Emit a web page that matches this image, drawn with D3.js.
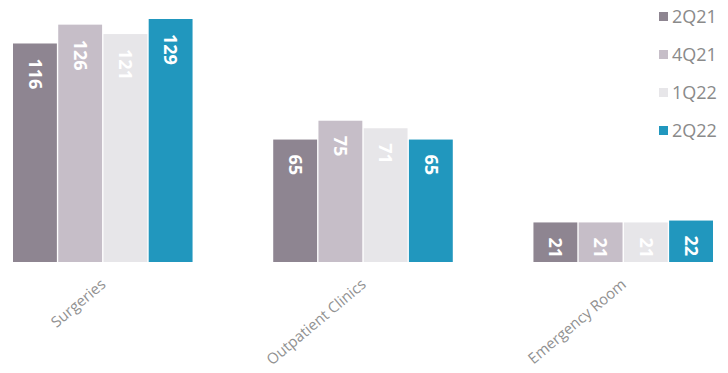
<!DOCTYPE html>
<html>
<head>
<meta charset="utf-8">
<script src="https://cdn.jsdelivr.net/npm/d3@7"></script>
<style>
  body { margin: 0; background: #fff; }
  svg { display: block; font-family: "Open Sans", sans-serif; }
</style>
</head>
<body>
<div id="chart"></div>
<script>
// data
const categories = ['Surgeries', 'Outpatient Clinics', 'Emergency Room'];
const seriesNames = ['2Q21', '4Q21', '1Q22', '2Q22'];
const q2_21 = [116, 65, 21];
const q4_21 = [126, 75, 21];
const q1_22 = [121, 71, 21];
const q2_22 = [129, 65, 22];
const colors = ['#8e8591', '#c6bec8', '#e7e6e9', '#2197be'];

const width = 728, height = 373;
const baseline = 262;

const seriesValues = [q2_21, q4_21, q1_22, q2_22];
const rows = categories.map((c, i) => ({
    cat: c,
    vals: seriesNames.map((s, j) => ({ key: s, value: seriesValues[j][i], idx: j }))
}));

const svg = d3.select('#chart').append('svg')
    .attr('width', width)
    .attr('height', height);

const x0 = d3.scaleBand()
    .domain(categories)
    .range([13, 713])
    .paddingInner(0.31)
    .paddingOuter(0);

const x1 = d3.scaleBand()
    .domain(seriesNames)
    .range([0, x0.bandwidth()])
    .paddingInner(0.03);

const y = d3.scaleLinear()
    .domain([0, 129])
    .range([baseline, 19]);

const color = d3.scaleOrdinal().domain(seriesNames).range(colors);

// bars
const groups = svg.selectAll('.grp')
    .data(rows)
    .join('g')
    .attr('class', 'grp')
    .attr('transform', d => `translate(${x0(d.cat)},0)`);

groups.selectAll('rect')
    .data(d => d.vals)
    .join('rect')
    .attr('x', d => x1(d.key))
    .attr('y', d => y(d.value))
    .attr('width', x1.bandwidth())
    .attr('height', d => y(0) - y(d.value))
    .attr('fill', d => color(d.key));

// value labels, rotated
groups.selectAll('text.val')
    .data(d => d.vals)
    .join('text')
    .attr('class', 'val')
    .attr('transform', d => `translate(${x1(d.key) + x1.bandwidth() / 2},${y(d.value) + 15}) rotate(90)`)
    .attr('dy', '0.35em')
    .attr('fill', '#fff')
    .style('font-size', '18px')
    .style('font-weight', 'bold')
    .text(d => d.value);

// category axis labels
const xAxis = svg.append('g')
    .attr('transform', `translate(0,${baseline})`)
    .call(d3.axisBottom(x0).tickSize(0).tickPadding(0));
xAxis.select('.domain').remove();
xAxis.selectAll('text')
    .attr('y', 0)
    .attr('dy', 0)
    .attr('transform', 'translate(4,24) rotate(-40)')
    .style('text-anchor', 'end')
    .style('font-family', '"Open Sans", sans-serif')
    .style('font-size', '15px')
    .attr('fill', '#919191');

// legend
const legend = svg.append('g').attr('transform', 'translate(659,17)');
const item = legend.selectAll('g')
    .data(seriesNames)
    .join('g')
    .attr('transform', (d, i) => `translate(0,${i * 38})`);
item.append('rect')
    .attr('x', 0)
    .attr('y', -5)
    .attr('width', 9)
    .attr('height', 9)
    .attr('fill', d => color(d));
item.append('text')
    .attr('x', 13)
    .attr('dy', '0.35em')
    .attr('fill', '#8a8a8a')
    .style('font-size', '18px')
    .text(d => d);
</script>
</body>
</html>
